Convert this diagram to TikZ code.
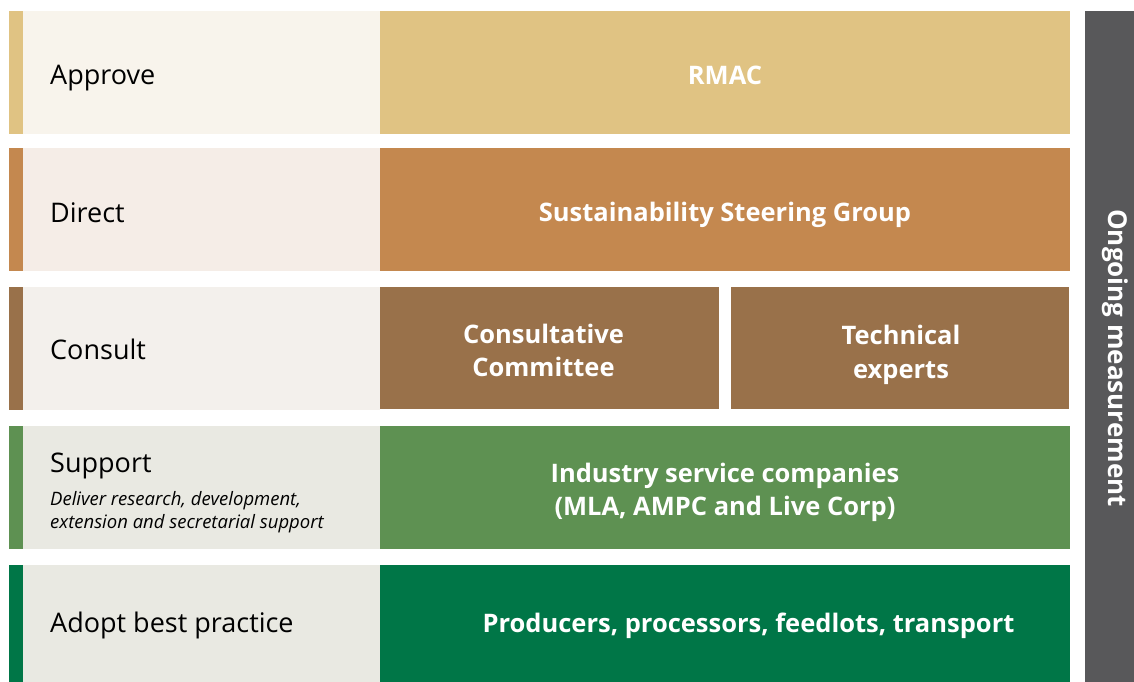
\documentclass[tikz,border=0pt]{standalone}
\usepackage{fontspec}
\setmainfont{Open Sans}
\usetikzlibrary{positioning}
\definecolor{ApproveTan}{HTML}{E0C383}
\definecolor{ApproveLight}{HTML}{F8F4EC}
\definecolor{DirectOchre}{HTML}{C4884F}
\definecolor{DirectLight}{HTML}{F5EDE7}
\definecolor{ConsultBrown}{HTML}{99714A}
\definecolor{ConsultLight}{HTML}{F3F0EC}
\definecolor{SupportGreen}{HTML}{5E9152}
\definecolor{AdoptGreen}{HTML}{007647}
\definecolor{GreenLight}{HTML}{E9E9E2}
\definecolor{MeasureGrey}{HTML}{58585A}

\begin{document}
\begin{tikzpicture}[
  x=1pt, y=-1pt,
  cell/.style={anchor=north west, inner sep=0pt, outer sep=0pt, minimum height=123pt},
  accent/.style={cell, minimum width=14pt},
  rolecell/.style={cell, minimum width=357pt},
  bodycell/.style={cell, minimum width=690pt},
  role/.style={anchor=base west, inner sep=0pt, font=\fontsize{27}{30}\selectfont},
  body/.style={anchor=base, inner sep=0pt, align=center, text=white,
               font=\bfseries\fontsize{25.5}{33}\selectfont},
  note/.style={anchor=base west, inner sep=0pt, align=left,
               font=\itshape\fontsize{18.5}{23.3}\selectfont},
]
\useasboundingbox (0,0) rectangle (1134,682);

% ============ APPROVE ============
\node[accent, fill=ApproveTan] (approvebar) at (9,11) {};
\node[rolecell, fill=ApproveLight] (approvecell) at (23,11) {};
\node[bodycell, fill=ApproveTan] (rmaccell) at (380,11) {};
\node[role] (approve) at (50,85) {Approve};
\node[body] (rmac) at (725,84.3) {RMAC};

% ============ DIRECT ============
\node[accent, fill=DirectOchre] (directbar) at (9,148) {};
\node[rolecell, fill=DirectLight] (directcell) at (23,148) {};
\node[bodycell, fill=DirectOchre] (ssgcell) at (380,148) {};
\node[role] (direct) at (50,222) {Direct};
\node[body] (ssg) at (725,221.7) {Sustainability Steering Group};

% ============ CONSULT ============
% (base of a two-line node = baseline of its last line)
\node[accent, fill=ConsultBrown] (consultbar) at (9,287) {};
\node[rolecell, fill=ConsultLight] (consultcell) at (23,287) {};
\node[cell, fill=ConsultBrown, minimum width=339pt, minimum height=122pt] (committeecell) at (380,287) {};
\node[cell, fill=ConsultBrown, minimum width=338pt, minimum height=122pt] (expertscell) at (731,287) {};
\node[role] (consult) at (50,359) {Consult};
\node[body] (committee) at (543.5,376.5) {Consultative\\ Committee};
\node[body, font=\bfseries\fontsize{25.5}{33.7}\selectfont] (experts) at (901,378.5) {Technical\\ experts};

% ============ SUPPORT ============
\node[accent, fill=SupportGreen] (supportbar) at (9,426) {};
\node[rolecell, fill=GreenLight] (supportcell) at (23,426) {};
\node[bodycell, fill=SupportGreen] (servicescell) at (380,426) {};
\node[role] (support) at (50,472.7) {Support};
\node[note] (supportnote) at (50,528.3) {Deliver research, development,\\ extension and secretarial support};
\node[body] (services) at (725,515) {Industry service companies\\ (MLA, AMPC and Live Corp)};

% ============ ADOPT ============
\node[accent, fill=AdoptGreen, minimum height=117pt] (adoptbar) at (9,565) {};
\node[rolecell, fill=GreenLight, minimum height=117pt] (adoptcell) at (23,565) {};
\node[bodycell, fill=AdoptGreen, minimum height=117pt] (producerscell) at (380,565) {};
\node[role] (adopt) at (50,632) {Adopt best practice};
\node[body] (producers) at (748.5,632.5) {Producers, processors, feedlots, transport};

% ---- side band ----
\node[cell, fill=MeasureGrey, minimum width=49pt, minimum height=671pt] (measurecell) at (1085,11) {};
\node[body, rotate=-90, font=\bfseries\fontsize{26}{30}\selectfont] (measure) at (1108.3,358) {Ongoing measurement};

\end{tikzpicture}
\end{document}
